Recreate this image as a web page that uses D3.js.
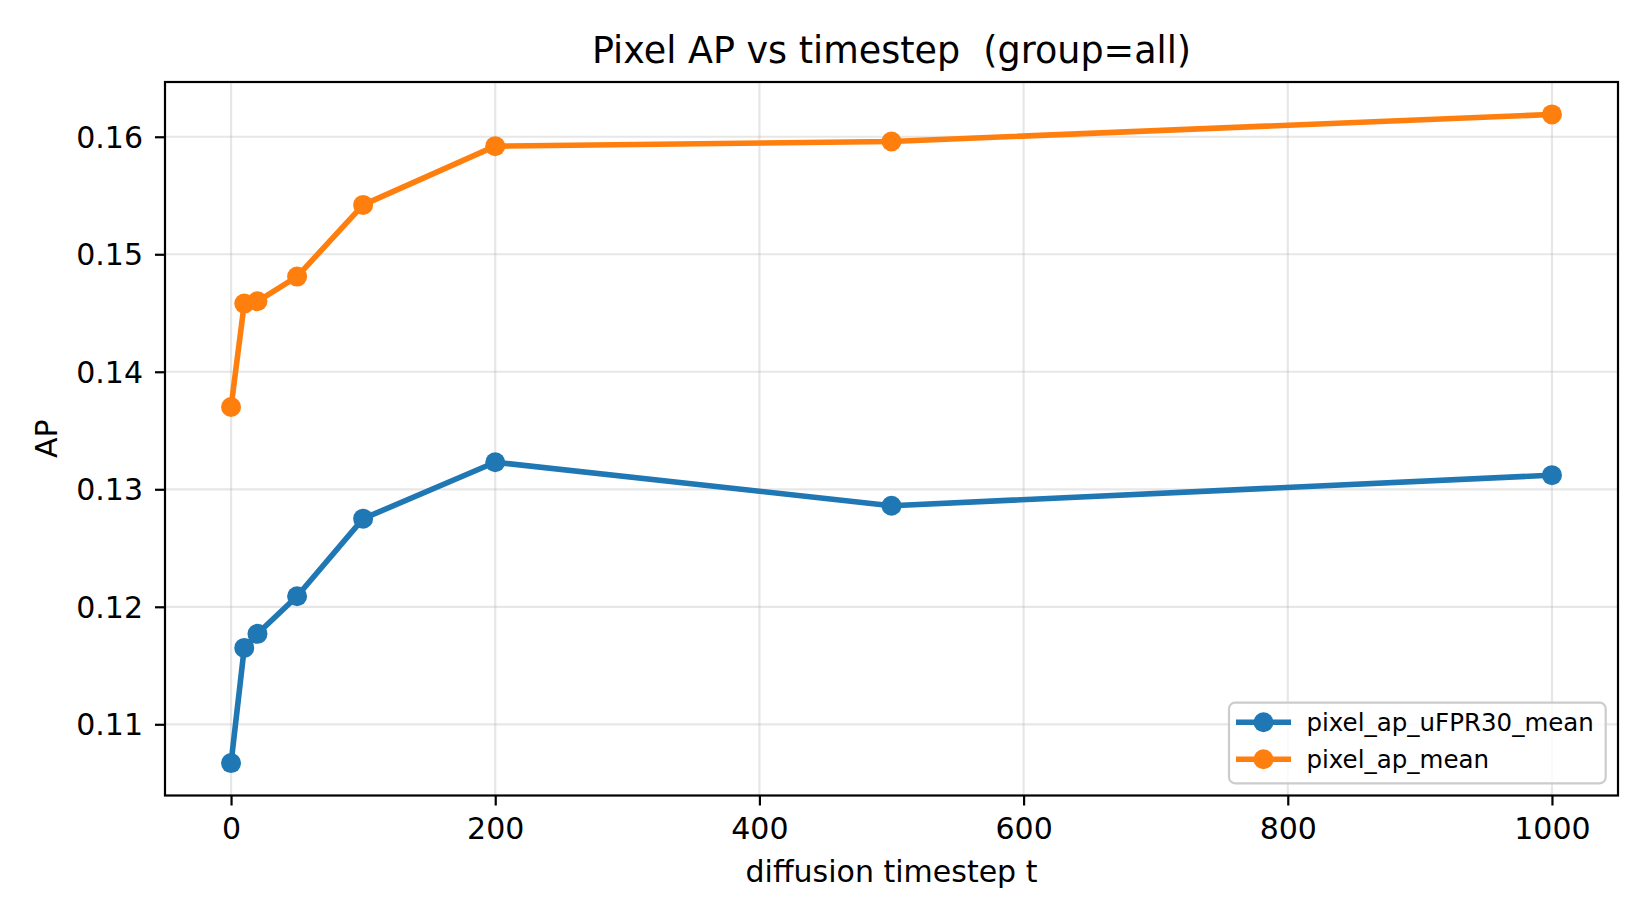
<!DOCTYPE html>
<html>
<head>
<meta charset="utf-8">
<script src="https://cdn.jsdelivr.net/npm/d3@7"></script>
<style>
  html, body { margin: 0; padding: 0; background: #fff; }
  svg { display: block; font-family: "DejaVu Sans", sans-serif; }
  .pre { white-space: pre; }
</style>
</head>
<body>
<svg id="chart" width="1650" height="924"></svg>
<script>
const timesteps = [0, 10, 20, 50, 100, 200, 500, 1000];
const uFPR30Mean = [0.1067, 0.1165, 0.1177, 0.1209, 0.1275, 0.1323, 0.1286, 0.1312];
const apMean = [0.1370, 0.1458, 0.1460, 0.1481, 0.1542, 0.1592, 0.1596, 0.1619];
const seriesNames = ["pixel_ap_uFPR30_mean", "pixel_ap_mean"];
const seriesColors = ["#1f77b4", "#ff7f0e"];
const xTicks = [0, 200, 400, 600, 800, 1000];
const yTicks = [0.11, 0.12, 0.13, 0.14, 0.15, 0.16];
const titleText = "Pixel AP vs timestep  (group=all)";
const xLabel = "diffusion timestep t";
const yLabel = "AP";

const svg = d3.select("#chart");
const L = 165, R = 1618, T = 82, B = 795.5;

const allVals = uFPR30Mean.concat(apMean);
const yMin = d3.min(allVals), yMax = d3.max(allVals);
const yPad = (yMax - yMin) * 0.05;
const xPad = (d3.max(timesteps) - d3.min(timesteps)) * 0.05;

const x = d3.scaleLinear().domain([d3.min(timesteps) - xPad, d3.max(timesteps) + xPad]).range([L, R]);
const y = d3.scaleLinear().domain([yMin - yPad, yMax + yPad]).range([B, T]);

// grid
const grid = svg.append("g");
grid.selectAll(".gx").data(xTicks).join("line")
  .attr("x1", d => x(d)).attr("x2", d => x(d)).attr("y1", T).attr("y2", B)
  .attr("stroke", "#b0b0b0").attr("stroke-opacity", 0.3).attr("stroke-width", 2.2);
grid.selectAll(".gy").data(yTicks).join("line")
  .attr("x1", L).attr("x2", R).attr("y1", d => y(d)).attr("y2", d => y(d))
  .attr("stroke", "#b0b0b0").attr("stroke-opacity", 0.3).attr("stroke-width", 2.2);

// series
const series = [uFPR30Mean, apMean];
const line = d3.line().x((d, i) => x(timesteps[i])).y(d => y(d));
series.forEach((vals, si) => {
  svg.append("path").datum(vals).attr("d", line)
    .attr("fill", "none").attr("stroke", seriesColors[si]).attr("stroke-width", 5.6)
    .attr("stroke-linejoin", "round").attr("stroke-linecap", "square");
  svg.append("g").selectAll("circle").data(vals).join("circle")
    .attr("cx", (d, i) => x(timesteps[i])).attr("cy", d => y(d)).attr("r", 10)
    .attr("fill", seriesColors[si]);
});

// axes
const xAxis = d3.axisBottom(x).tickValues(xTicks).tickFormat(d3.format("d")).tickSize(10).tickPadding(12);
const yAxis = d3.axisLeft(y).tickValues(yTicks).tickFormat(d3.format(".2f")).tickSize(10).tickPadding(12);
const gx = svg.append("g").attr("transform", `translate(0,${B})`).call(xAxis);
const gy = svg.append("g").attr("transform", `translate(${L},0)`).call(yAxis);
[gx, gy].forEach(g => {
  g.select(".domain").remove();
  g.selectAll(".tick line").attr("stroke", "#000").attr("stroke-width", 2.2);
  g.selectAll(".tick text").attr("fill", "#000").attr("font-size", 30).attr("font-family", "DejaVu Sans");
});
gy.selectAll(".tick text").attr("dy", "0.35em");

// frame
svg.append("rect").attr("x", L).attr("y", T).attr("width", R - L).attr("height", B - T)
  .attr("fill", "none").attr("stroke", "#000").attr("stroke-width", 2.2);

// title & labels
svg.append("text").attr("class", "pre").attr("x", (L + R) / 2).attr("y", 63.3).attr("text-anchor", "middle")
  .attr("font-size", 36.5).text(titleText);
svg.append("text").attr("x", (L + R) / 2).attr("y", 881.7).attr("text-anchor", "middle")
  .attr("font-size", 30).text(xLabel);
svg.append("text").attr("transform", `translate(57,${(T + B) / 2}) rotate(-90)`)
  .attr("text-anchor", "middle").attr("font-size", 30).text(yLabel);

// legend
const lg = svg.append("g");
lg.append("rect").attr("x", 1229).attr("y", 702.7).attr("width", 376.7).attr("height", 80.6)
  .attr("rx", 6).attr("fill", "#fff").attr("fill-opacity", 0.8)
  .attr("stroke", "#cccccc").attr("stroke-width", 2.2);
const rowY = [722.3, 759.3];
seriesNames.forEach((name, i) => {
  lg.append("line").attr("x1", 1236).attr("x2", 1291).attr("y1", rowY[i]).attr("y2", rowY[i])
    .attr("stroke", seriesColors[i]).attr("stroke-width", 5.6);
  lg.append("circle").attr("cx", 1263.5).attr("cy", rowY[i]).attr("r", 10).attr("fill", seriesColors[i]);
  lg.append("text").attr("x", 1306.5).attr("y", rowY[i]).attr("dy", "0.35em")
    .attr("font-size", 24.5).text(name);
});
</script>
</body>
</html>
